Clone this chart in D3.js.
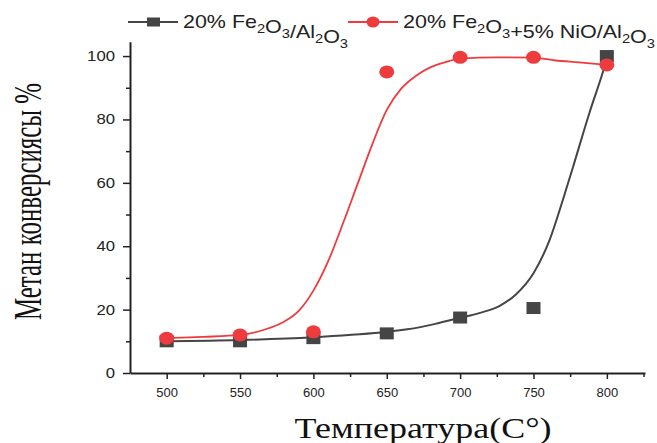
<!DOCTYPE html>
<html>
<head>
<meta charset="utf-8">
<script src="https://cdn.jsdelivr.net/npm/d3@7"></script>
<style>
  html, body { margin: 0; padding: 0; background: #fff; }
  svg { display: block; }
</style>
</head>
<body>
<svg id="chart" width="657" height="443"></svg>
<script>
// ---- data ----
const temps = [500, 550, 600, 650, 700, 750, 800];
const feAl = [10, 10, 11, 12.5, 17.5, 20.5, 100];
const feNiAl = [11, 12, 13, 95, 99.6, 99.6, 97.2];

// fitted curves
const feAlFitT = [500, 550, 600, 650, 672, 683, 700, 713, 727, 738, 750, 761, 770, 777, 788, 797, 800];
const feAlFitV = [10, 10.4, 11.3, 13, 14.4, 15.5, 17.4, 18.9, 21.2, 24.8, 31.5, 42, 54.6, 65.1, 81.9, 94.5, 99];
const feNiAlFitT = [500, 525, 550, 570, 580, 590, 600, 610, 620, 630, 640, 650, 660, 670, 680, 690, 700, 725, 750, 765, 781, 800];
const feNiAlFitV = [11, 11.4, 12, 14.2, 16.2, 19.6, 26, 35.2, 47, 59.5, 72, 83, 89.8, 93.8, 96.5, 98.1, 99.2, 99.6, 99.5, 98.6, 98, 97.2];

const xTicks = [500, 550, 600, 650, 700, 750, 800];
const xMinorTicks = [525, 575, 625, 675, 725, 775, 825];
const yTicks = [0, 20, 40, 60, 80, 100];
const yMinorTicks = [10, 30, 50, 70, 90];

const seriesNames = ["20% Fe2O3/Al2O3", "20% Fe2O3+5% NiO/Al2O3"];
const xTitle = "Температура(C°)";
const yTitle = "Метан конверсиясы %";

// ---- drawing ----
const svg = d3.select("#chart");
svg.append("rect").attr("width", 657).attr("height", 443).attr("fill", "#fff");

const x = d3.scaleLinear().domain([475, 826]).range([130, 645]);
const y = d3.scaleLinear().domain([0, 104.5]).range([373, 41.8]);

const axisColor = "#222";
const blackC = "#454545";
const redC = "#ee3b3e";

// x axis
const gx = svg.append("g").attr("transform", "translate(0,373)");
gx.call(d3.axisBottom(x).tickValues(xTicks).tickSize(6).tickSizeOuter(0).tickPadding(9).tickFormat(d3.format("d")));
gx.select(".domain").attr("stroke", axisColor).attr("stroke-width", 2);
gx.selectAll(".tick line").attr("stroke", axisColor).attr("stroke-width", 1.5);
gx.selectAll(".tick text").attr("font-family", "Liberation Sans, Arial, sans-serif").attr("font-size", 13).attr("fill", "#222");
const gxm = svg.append("g").attr("transform", "translate(0,373)");
gxm.call(d3.axisBottom(x).tickValues(xMinorTicks).tickSize(4).tickFormat(""));
gxm.select(".domain").remove();
gxm.selectAll(".tick line").attr("stroke", axisColor).attr("stroke-width", 1.5);

// y axis
const gy = svg.append("g").attr("transform", "translate(130,0)");
gy.call(d3.axisLeft(y).tickValues(yTicks).tickSize(7).tickSizeOuter(0).tickPadding(8).tickFormat(d3.format("d")));
gy.select(".domain").attr("stroke", axisColor).attr("stroke-width", 2);
gy.selectAll(".tick line").attr("stroke", axisColor).attr("stroke-width", 1.5);
gy.selectAll(".tick text")
  .attr("font-family", "Liberation Sans, Arial, sans-serif").attr("font-size", 14).attr("fill", "#222")
  .attr("textLength", d => String(d).length * 9.3).attr("lengthAdjust", "spacingAndGlyphs");
const gym = svg.append("g").attr("transform", "translate(130,0)");
gym.call(d3.axisLeft(y).tickValues(yMinorTicks).tickSize(4).tickFormat(""));
gym.select(".domain").remove();
gym.selectAll(".tick line").attr("stroke", axisColor).attr("stroke-width", 1.5);

// curves
const line = d3.line().x(d => x(d[0])).y(d => y(d[1])).curve(d3.curveMonotoneX);
svg.append("path").datum(d3.zip(feAlFitT, feAlFitV)).attr("d", line)
  .attr("fill", "none").attr("stroke", blackC).attr("stroke-width", 2);
svg.append("path").datum(d3.zip(feNiAlFitT, feNiAlFitV)).attr("d", line)
  .attr("fill", "none").attr("stroke", redC).attr("stroke-width", 1.8);

// markers
svg.append("g").selectAll("rect").data(d3.zip(temps, feAl)).join("rect")
  .attr("x", d => x(d[0]) - 7).attr("y", d => y(d[1]) - 6)
  .attr("width", 14).attr("height", 12).attr("fill", blackC);
svg.append("g").selectAll("ellipse").data(d3.zip(temps, feNiAl)).join("ellipse")
  .attr("cx", d => x(d[0])).attr("cy", d => y(d[1]))
  .attr("rx", 7.5).attr("ry", 6.5).attr("fill", redC);

// legend
function chemText(g, xPos, yPos, str, len) {
  const t = g.append("text").attr("x", xPos).attr("y", yPos)
    .attr("font-family", "Liberation Sans, Arial, sans-serif").attr("font-size", 19).attr("fill", "#222");
  const parts = str.match(/(Fe|O|Al)\d|[^]/g);
  let buf = "";
  const flush = () => { if (buf) { t.append("tspan").text(buf); buf = ""; } };
  parts.forEach(p => {
    const m = p.match(/^(Fe|O|Al)(\d)$/);
    if (m) {
      buf += m[1]; flush();
      t.append("tspan").attr("dy", 5).attr("font-size", 13).text(m[2]);
      t.append("tspan").attr("dy", -5).text("");
    } else buf += p;
  });
  flush();
  if (len) t.attr("textLength", len).attr("lengthAdjust", "spacingAndGlyphs");
}
const lg = svg.append("g");
lg.append("line").attr("x1", 128).attr("x2", 178).attr("y1", 22).attr("y2", 22).attr("stroke", blackC).attr("stroke-width", 2);
lg.append("rect").attr("x", 147).attr("y", 17.5).attr("width", 13).attr("height", 9).attr("fill", blackC);
chemText(lg, 183, 28, seriesNames[0], 165);
lg.append("line").attr("x1", 348).attr("x2", 398).attr("y1", 22).attr("y2", 22).attr("stroke", redC).attr("stroke-width", 2);
lg.append("ellipse").attr("cx", 373).attr("cy", 22).attr("rx", 6.5).attr("ry", 5.5).attr("fill", redC);
chemText(lg, 403, 28, seriesNames[1], 252);

// axis titles
svg.append("text").attr("x", 423).attr("y", 438).attr("text-anchor", "middle")
  .attr("font-family", "Liberation Serif, Times New Roman, serif").attr("font-size", 30).attr("fill", "#111")
  .attr("textLength", 257).attr("lengthAdjust", "spacingAndGlyphs").text(xTitle);
svg.append("text").attr("transform", "translate(41,201.5) scale(1.25,1) rotate(-90)").attr("text-anchor", "middle")
  .attr("font-family", "Liberation Serif, Times New Roman, serif").attr("font-size", 32).attr("fill", "#111")
  .attr("textLength", 237).attr("lengthAdjust", "spacingAndGlyphs").text(yTitle);
</script>
</body>
</html>
